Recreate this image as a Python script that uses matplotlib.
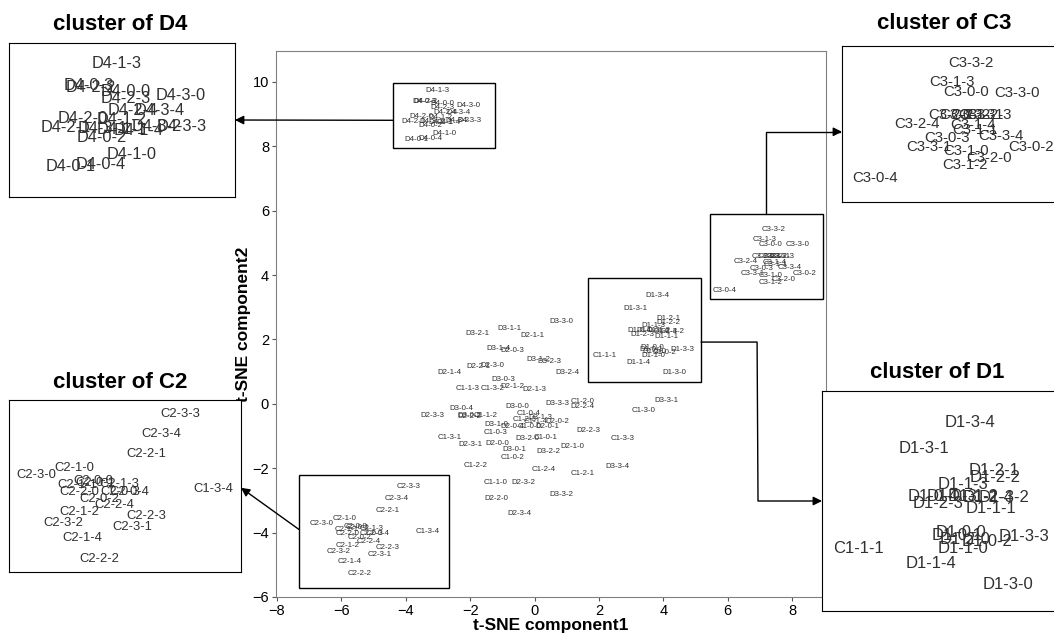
import matplotlib.pyplot as plt
from matplotlib.patches import Rectangle, ConnectionPatch

plt.rcParams['font.family'] = ['Liberation Sans', 'DejaVu Sans']

# t-SNE positions of each sample label (left/baseline of the text)
c1_labels = ['C1-1-1', 'C1-3-4', 'C1-1-3', 'C1-3-2', 'C1-2-0', 'C1-3-0', 'C1-1-2', 'C1-0-4', 'C1-2-3', 'C1-1-4',
             'C1-0-0', 'C1-0-3', 'C1-3-1', 'C1-0-1', 'C1-3-3', 'C1-0-2', 'C1-2-2', 'C1-2-4', 'C1-2-1', 'C1-1-0']
c1_x = [1.80, -3.70, -2.45, -1.68, 1.12, 3.02, -1.90, -0.56, -0.68, -0.35,
        -0.54, -1.59, -3.02, -0.04, 2.36, -1.04, -2.21, -0.09, 1.13, -1.59]
c1_y = [1.45, -4.01, 0.43, 0.43, 0.02, -0.25, -0.40, -0.35, -0.52, -0.59,
        -0.76, -0.94, -1.10, -1.10, -1.13, -1.72, -1.97, -2.08, -2.21, -2.49]

c2_labels = ['C2-3-3', 'C2-3-4', 'C2-2-1', 'C2-1-0', 'C2-3-0', 'C2-0-0', 'C2-0-1', 'C2-1-3', 'C2-1-1', 'C2-2-0',
             'C2-0-3', 'C2-0-4', 'C2-0-2', 'C2-2-4', 'C2-1-2', 'C2-2-3', 'C2-3-2', 'C2-3-1', 'C2-1-4', 'C2-2-2']
c2_x = [-4.30, -4.65, -4.94, -6.26, -6.98, -5.92, -5.87, -5.44, -6.22, -6.17,
        -5.42, -5.24, -5.81, -5.52, -6.17, -4.93, -6.47, -5.19, -6.12, -5.80]
c2_y = [-2.62, -2.99, -3.36, -3.62, -3.76, -3.87, -3.90, -3.93, -3.95, -4.07,
        -4.07, -4.07, -4.20, -4.32, -4.45, -4.51, -4.64, -4.72, -4.93, -5.32]

c3_labels = ['C3-3-2', 'C3-1-3', 'C3-0-0', 'C3-3-0', 'C3-2-2', 'C3-0-1', 'C3-3-3', 'C3-2-1', 'C3-2-3', 'C3-2-4',
             'C3-1-4', 'C3-1-1', 'C3-0-3', 'C3-3-4', 'C3-0-2', 'C3-3-1', 'C3-1-0', 'C3-2-0', 'C3-1-2', 'C3-0-4']
c3_x = [7.06, 6.76, 6.97, 7.79, 6.74, 6.92, 7.09, 7.21, 7.34, 6.19,
        7.09, 7.12, 6.67, 7.54, 8.02, 6.39, 6.97, 7.35, 6.96, 5.52]
c3_y = [5.38, 5.07, 4.91, 4.90, 4.53, 4.53, 4.54, 4.53, 4.53, 4.38,
        4.36, 4.28, 4.16, 4.19, 4.00, 4.00, 3.94, 3.82, 3.71, 3.49]

d1_labels = ['D1-3-4', 'D1-3-1', 'D1-2-1', 'D1-2-2', 'D1-1-3', 'D1-0-4', 'D1-0-3', 'D1-1-2', 'D1-2-4', 'D1-3-2',
             'D1-2-3', 'D1-1-1', 'D1-0-0', 'D1-0-1', 'D1-3-3', 'D1-2-0', 'D1-0-2', 'D1-1-0', 'D1-1-4', 'D1-3-0']
d1_x = [3.43, 2.75, 3.78, 3.79, 3.32, 2.88, 3.17, 3.47, 3.69, 3.92,
        2.96, 3.73, 3.30, 3.24, 4.21, 3.35, 3.67, 3.32, 2.86, 3.98]
d1_y = [3.31, 2.93, 2.60, 2.49, 2.39, 2.22, 2.22, 2.22, 2.21, 2.21,
        2.11, 2.04, 1.69, 1.65, 1.63, 1.585, 1.555, 1.46, 1.23, 0.93]

d2_labels = ['D2-1-1', 'D2-0-3', 'D2-2-1', 'D2-3-0', 'D2-1-4', 'D2-1-2', 'D2-1-3', 'D2-2-4', 'D2-3-3', 'D2-2-2',
             'D2-0-2', 'D2-0-4', 'D2-0-1', 'D2-2-3', 'D2-3-1', 'D2-0-0', 'D2-1-0', 'D2-3-2', 'D2-2-0', 'D2-3-4']
d2_x = [-0.45, -1.07, -2.13, -1.68, -3.02, -1.07, -0.37, 1.12, -3.54, -2.39,
        0.32, -1.07, 0.01, 1.31, -2.37, -1.52, 0.79, -0.71, -1.56, -0.84]
d2_y = [2.09, 1.62, 1.10, 1.13, 0.93, 0.48, 0.41, -0.12, -0.42, -0.44,
        -0.59, -0.76, -0.76, -0.88, -1.31, -1.28, -1.38, -2.49, -2.99, -3.45]

d3_labels = ['D3-3-0', 'D3-2-1', 'D3-1-1', 'D3-1-4', 'D3-1-2', 'D3-2-3', 'D3-2-4', 'D3-0-3', 'D3-0-4', 'D3-0-0',
             'D3-3-3', 'D3-3-1', 'D3-0-2', 'D3-1-3', 'D3-1-0', 'D3-2-0', 'D3-0-1', 'D3-2-2', 'D3-3-4', 'D3-3-2']
d3_x = [0.45, -2.16, -1.15, -1.49, -0.27, 0.09, 0.63, -1.33, -2.65, -0.92,
        0.34, 3.71, -2.39, -0.19, -1.56, -0.61, -0.99, 0.06, 2.21, 0.45]
d3_y = [2.52, 2.14, 2.29, 1.67, 1.34, 1.26, 0.93, 0.71, -0.19, -0.14,
        -0.05, 0.05, -0.40, -0.48, -0.69, -1.12, -1.46, -1.52, -1.98, -2.86]

d4_labels = ['D4-1-3', 'D4-0-3', 'D4-2-2', 'D4-0-0', 'D4-2-3', 'D4-3-0', 'D4-2-4', 'D4-3-4', 'D4-2-0', 'D4-1-2',
             'D4-2-1', 'D4-3-1', 'D4-1-1', 'D4-1-4', 'D4-3-2', 'D4-3-3', 'D4-0-2', 'D4-1-0', 'D4-0-1', 'D4-0-4']
d4_x = [-3.38, -3.79, -3.77, -3.25, -3.25, -2.42, -3.14, -2.73, -3.89, -3.30,
        -4.14, -3.59, -3.30, -3.05, -2.78, -2.41, -3.60, -3.16, -4.06, -3.61]
d4_y = [9.69, 9.36, 9.34, 9.28, 9.17, 9.22, 8.99, 8.99, 8.87, 8.86,
        8.74, 8.73, 8.71, 8.70, 8.75, 8.75, 8.60, 8.34, 8.16, 8.20]

labels = c1_labels + c2_labels + c3_labels + d1_labels + d2_labels + d3_labels + d4_labels
xs = c1_x + c2_x + c3_x + d1_x + d2_x + d3_x + d4_x
ys = c1_y + c2_y + c3_y + d1_y + d2_y + d3_y + d4_y


def put_labels(a, size):
    for lab, x, y in zip(labels, xs, ys):
        a.annotate(lab, (x, y), fontsize=size, color='#303030')


fig = plt.figure(figsize=(10.54, 6.37), dpi=100)

# main t-SNE map
ax = fig.add_axes([0.2619, 0.0628, 0.5218, 0.857])
put_labels(ax, 5.7)
ax.set_xlim(-8.03, 9.05)
ax.set_ylim(-6, 10.96)
ax.set_xticks(range(-8, 9, 2))
ax.set_yticks(range(-6, 11, 2))
ax.tick_params(labelsize=10.5, color='#555555', length=3, pad=2)
for s in ax.spines.values():
    s.set_color('#808080')
ax.set_xlabel('t-SNE component1', fontsize=12.5, fontweight='bold', labelpad=0)
ax.set_ylabel('t-SNE component2', fontsize=12.5, fontweight='bold', labelpad=1)

# zoom regions: (name, box in main axes, inset rect, inset limits, font size, title x, title pad)
zooms = [
    ('D4', (-4.4, 7.94, 3.17, 2.02), [0.0085, 0.6907, 0.2144, 0.2418], (-4.61, -1.24), (7.78, 10.06), 11.8, 0.49, 9),
    ('C3', (5.45, 3.25, 3.51, 2.64), [0.7989, 0.6829, 0.215, 0.2449], (5.36, 8.98), (3.17, 5.73), 10.8, 0.45, 12),
    ('C2', (-7.32, -5.72, 4.66, 3.51), [0.0085, 0.1020, 0.2201, 0.2700], (-7.11, -2.81), (-5.50, -2.31), 9.4, 0.48, 9),
    ('D1', (1.66, 0.68, 3.51, 3.23), [0.7799, 0.0408, 0.23, 0.3454], (1.64, 5.17), (0.60, 3.835), 12, 0.475, 9),
]
insets = {}
for name, box, rect, xl, yl, fs, tx, tp in zooms:
    ax.add_patch(Rectangle(box[:2], box[2], box[3], fill=False, ec='black', lw=1, zorder=3))
    ia = fig.add_axes(rect)
    put_labels(ia, fs)
    ia.set_xlim(*xl)
    ia.set_ylim(*yl)
    ia.set_xticks([])
    ia.set_yticks([])
    for s in ia.spines.values():
        s.set_color('black')
    ia.set_title('cluster of ' + name, fontsize=16, fontweight='bold', x=tx, pad=tp)
    insets[name] = ia

arrow = dict(arrowstyle='-|>', color='black', lw=1, shrinkA=0, shrinkB=0, mutation_scale=13)
conns = [
    ((-4.4, 8.81), 'D4', (1, 0.5), 'arc3,rad=0'),
    ((7.19, 5.89), 'C3', (0, 0.45), 'angle,angleA=90,angleB=0,rad=0'),
    ((5.17, 1.92), 'D1', (0, 0.5), 'arc,angleA=0,angleB=180,armA=56,armB=64,rad=0'),
    ((-7.32, -3.9), 'C2', (1, 0.49), 'arc3,rad=0'),
]
for xa, name, xb, cs in conns:
    con = ConnectionPatch(xyA=xa, coordsA=ax.transData, xyB=xb, coordsB=insets[name].transAxes,
                          connectionstyle=cs, **arrow)
    fig.add_artist(con)

fig.savefig('out.png', dpi=100)
